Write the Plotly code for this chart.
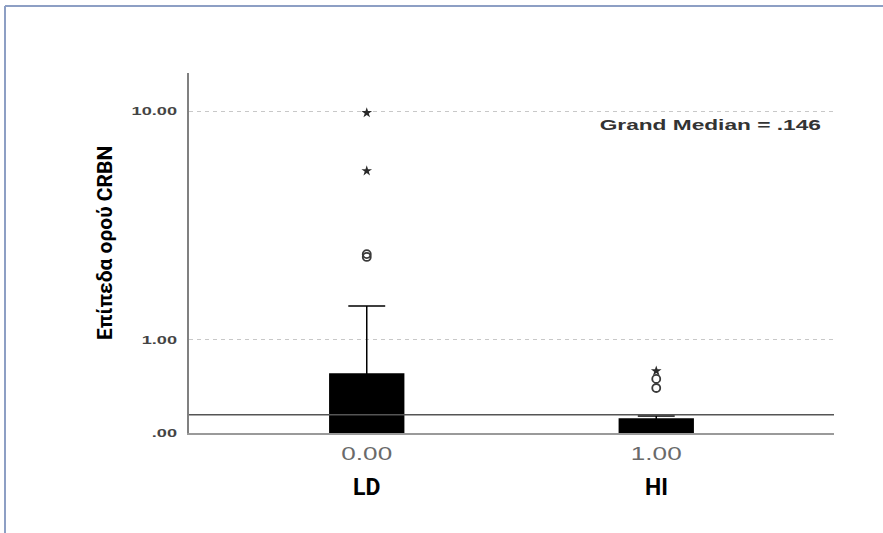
import numpy as np
import plotly.graph_objects as go

# Group positions and labels
groups = [0, 1]
group_ticks = ["0.00", "1.00"]
group_names = ["LD", "HI"]

# Box-plot summaries of serum CRBN per group
q1 = [0.0, 0.0]
median = [0.20, 0.05]
q3 = [0.552, 0.110]
lower_fence = [0.0, 0.0]
upper_fence = [1.576, 0.135]

# Outlying values: mild (circles) and extreme (stars)
mild_x = [0, 0, 1, 1]
mild_y = [2.71, 2.79, 0.398, 0.496]
extreme_x = [0, 0, 1]
extreme_y = [6.04, 9.86, 0.587]

grand_median = 0.146

# y tick values in the original units
y_ticks = [0.0, 1.0, 10.0]
y_tick_text = [".00", "1.00", "10.00"]
y_top = 13.6


def safe_log(v):
    """log10(1 + v) so that zero stays on the axis."""
    return np.log10(1.0 + np.asarray(v, dtype=float))


fig = go.Figure()

fig.add_trace(go.Box(
    x=groups,
    q1=safe_log(q1),
    median=safe_log(median),
    q3=safe_log(q3),
    lowerfence=safe_log(lower_fence),
    upperfence=safe_log(upper_fence),
    width=0.255,
    whiskerwidth=0.5,
    fillcolor="black",
    line=dict(color="black", width=1.5),
    boxpoints=False,
    hoverinfo="skip",
    showlegend=False,
))

fig.add_trace(go.Scatter(
    x=mild_x, y=safe_log(mild_y), mode="markers",
    marker=dict(symbol="circle-open", size=8, color="#3a3a3a",
                line=dict(width=1.8)),
    showlegend=False, hoverinfo="skip",
))
fig.add_trace(go.Scatter(
    x=extreme_x, y=safe_log(extreme_y), mode="markers",
    marker=dict(symbol="star", size=8, color="#2a2a2a"),
    showlegend=False, hoverinfo="skip",
))

# Grand median reference line
fig.add_shape(type="line", xref="paper", x0=0, x1=1,
              yref="y", y0=float(safe_log(grand_median)),
              y1=float(safe_log(grand_median)),
              line=dict(color="#555555", width=1.6))

# Outer frame (top and left edges)
frame_color = "#8d9fc4"
fig.add_shape(type="line", xref="paper", yref="paper",
              x0=(5 - 189) / 645, x1=(883 - 189) / 645,
              y0=(433 - 6) / 360, y1=(433 - 6) / 360,
              line=dict(color=frame_color, width=2))
fig.add_shape(type="line", xref="paper", yref="paper",
              x0=(5 - 189) / 645, x1=(5 - 189) / 645,
              y0=(433 - 6) / 360, y1=(433 - 540) / 360,
              line=dict(color=frame_color, width=2))

fig.add_annotation(
    text="Grand Median = .146", xref="paper", yref="paper",
    x=(710 - 189) / 645, y=(433 - 125) / 360, xanchor="center",
    yanchor="middle", showarrow=False,
    font=dict(family="Liberation Sans, Arial", size=14, color="#333333",
              weight="bold"),
)

for g, name in zip(groups, group_names):
    fig.add_annotation(
        text=name, x=g, xref="x", y=(433 - 488) / 360,
        yref="paper", showarrow=False, yanchor="middle",
        font=dict(family="Liberation Sans Narrow, Roboto", size=23,
                  color="black", weight="bold"),
    )

fig.add_annotation(
    text="Επίπεδα ορού CRBN", textangle=-90,
    xref="paper", yref="paper", x=(105 - 189) / 645,
    y=(433 - 243) / 360, xanchor="center", yanchor="middle",
    showarrow=False,
    font=dict(family="Liberation Sans Narrow, Roboto", size=21,
              color="black", weight="bold"),
)

fig.update_layout(
    width=883, height=533,
    margin=dict(l=189, r=49, t=73, b=100),
    paper_bgcolor="white", plot_bgcolor="white",
    xaxis=dict(
        range=[-0.614, 1.614], tickvals=groups, ticktext=group_ticks,
        showgrid=False, zeroline=False, showline=True,
        linecolor="#9a9a9a", linewidth=1.5, ticks="",
        ticklabelstandoff=4,
        tickfont=dict(family="Liberation Sans, Arial", size=18,
                      color="#6a6a6a"),
    ),
    yaxis=dict(
        range=[0, float(safe_log(y_top))],
        tickvals=safe_log(y_ticks), ticktext=y_tick_text,
        showgrid=True, gridcolor="#c8c8c8", griddash="4px,4px",
        gridwidth=1, zeroline=False, showline=True,
        linecolor="#808080", linewidth=1.6, ticks="",
        ticklabelstandoff=8,
        tickfont=dict(family="Liberation Sans, Arial", size=11,
                      color="#444444", weight="bold"),
    ),
)

# The chart's own labels use a wide, horizontally stretched face:
# widen them with SVG textLength once the plot is drawn.
widen_labels = """
var gd = document.getElementById('{plot_id}');
function widen(nodes, factor) {
  nodes.forEach(function (t) {
    var w = t.getComputedTextLength();
    t.setAttribute('textLength', (w * factor).toFixed(1));
    t.setAttribute('lengthAdjust', 'spacingAndGlyphs');
  });
}
widen(gd.querySelectorAll('.xtick text'), 1.45);
widen(gd.querySelectorAll('.ytick text'), 1.65);
var notes = [];
gd.querySelectorAll('.annotation-text').forEach(function (t) {
  if (t.textContent.indexOf('Grand') === 0) { notes.push(t); }
});
widen(notes, 1.62);
"""

fig.write_html("out.html", post_script=widen_labels)
